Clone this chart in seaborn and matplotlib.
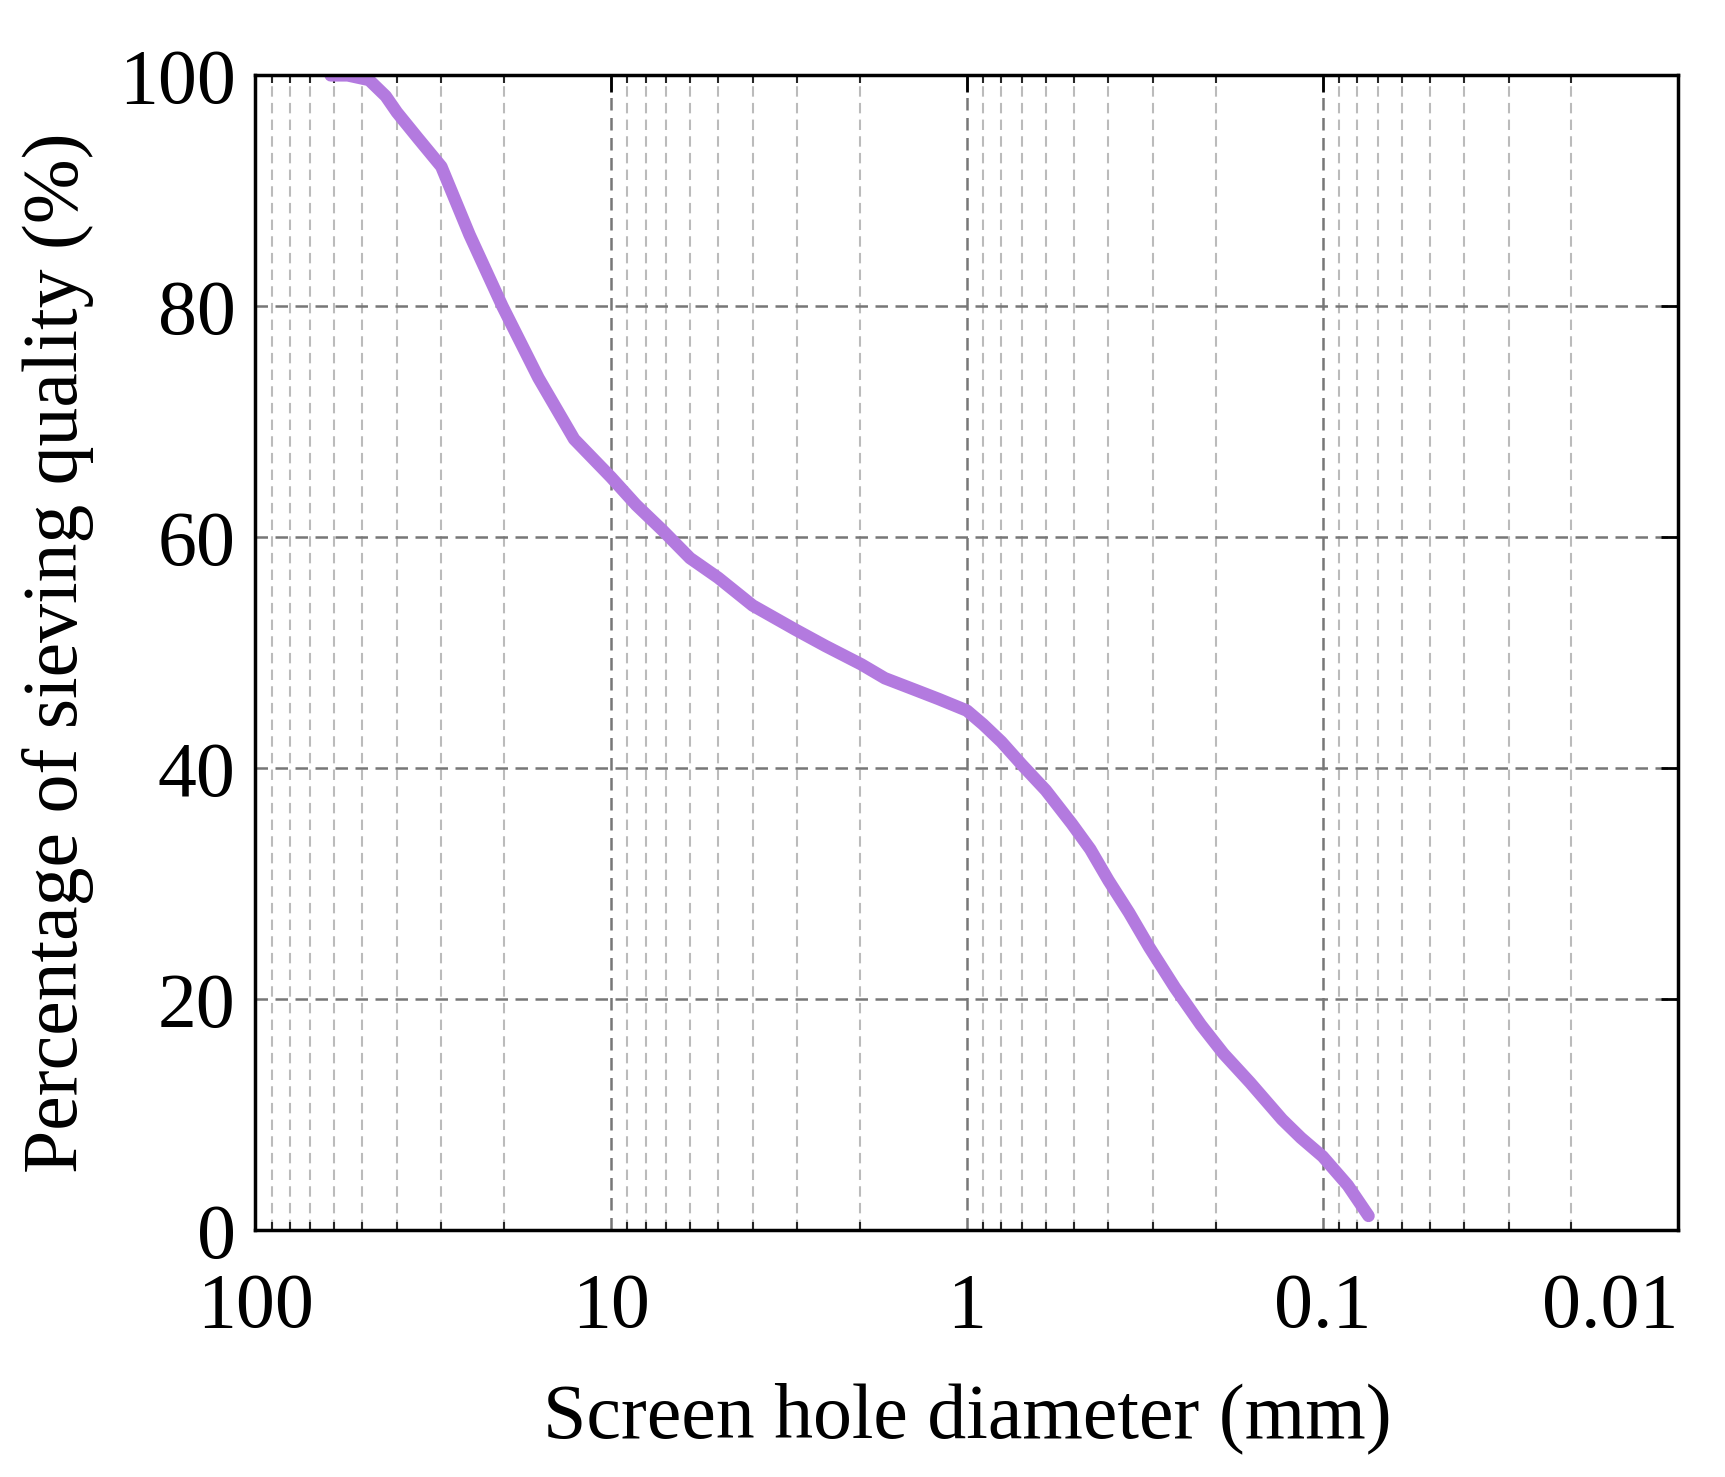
import matplotlib
matplotlib.use("Agg")
import matplotlib.pyplot as plt
import seaborn as sns
import pandas as pd
from matplotlib.ticker import LogLocator, FixedLocator

diameter = [61.4, 55.0, 47.9, 43.0, 40.0, 35.0, 30.0, 25.0, 20.2, 16.0, 12.7, 10.0, 8.5, 7.16, 6.0, 5.0, 4.0, 3.03, 2.5, 1.98, 1.7, 1.4, 1.2, 1.0, 0.9, 0.80, 0.70, 0.6, 0.507, 0.45, 0.40, 0.35, 0.307, 0.26, 0.22, 0.19, 0.16, 0.130, 0.115, 0.10, 0.085, 0.0743]
passing = [100, 100, 99.6, 98.2, 96.8, 94.6, 92.1, 86.2, 80, 73.8, 68.5, 65.2, 62.8, 60.6, 58.2, 56.5, 54.1, 52.0, 50.6, 49.0, 47.8, 46.8, 46.0, 45.0, 43.8, 42.3, 40.3, 38.1, 35.2, 33.0, 30.3, 27.5, 24.5, 21.0, 17.8, 15.3, 12.8, 9.6, 8.0, 6.4, 3.9, 1.25]

df = pd.DataFrame({"d": diameter, "p": passing})

sns.set_theme(style="white")
plt.rcParams['font.family'] = ['Liberation Serif', 'DejaVu Serif']

fig, ax = plt.subplots(figsize=(17.25, 14.77), dpi=100)
fig.subplots_adjust(left=0.148, right=0.973, top=0.949, bottom=0.167)
sns.lineplot(data=df, x="d", y="p", ax=ax, color="#b37adf", linewidth=9, solid_capstyle="round")
ax.set_xscale("log")
ax.set_xlim(100, 0.01)
ax.set_ylim(0, 100)
ax.xaxis.set_major_locator(FixedLocator([100, 10, 1, 0.1, 0.01]))
ax.set_xticklabels(["100", "10", "1", "0.1", "0.01"])
ax.get_xticklabels()[-1].set_horizontalalignment("right")
ax.xaxis.set_minor_locator(LogLocator(base=10, subs=range(2, 10)))
ax.set_yticks([0, 20, 40, 60, 80, 100])
ax.grid(which="major", axis="both", linestyle=(0, (5, 3)), color="#777777", linewidth=1.8)
ax.grid(which="minor", axis="x", linestyle=(0, (5, 3)), color="#bbbbbb", linewidth=1.5)
for s in ax.spines.values():
    s.set_color("black"); s.set_linewidth(2.5)
ax.tick_params(axis="both", which="major", direction="in", length=12, width=2, labelsize=56, top=True, right=True, color="black", labelcolor="black")
ax.tick_params(axis="x", which="major", pad=30)
ax.tick_params(axis="y", which="major", pad=14)
ax.tick_params(axis="x", which="minor", direction="in", length=6, width=1.5, top=True, bottom=True)
ax.set_xlabel("Screen hole diameter (mm)", fontsize=56, labelpad=28, color="black")
ax.set_ylabel("Percentage of sieving quality (%)", fontsize=56, labelpad=18, color="black")
fig.savefig("out.png", dpi=100)
